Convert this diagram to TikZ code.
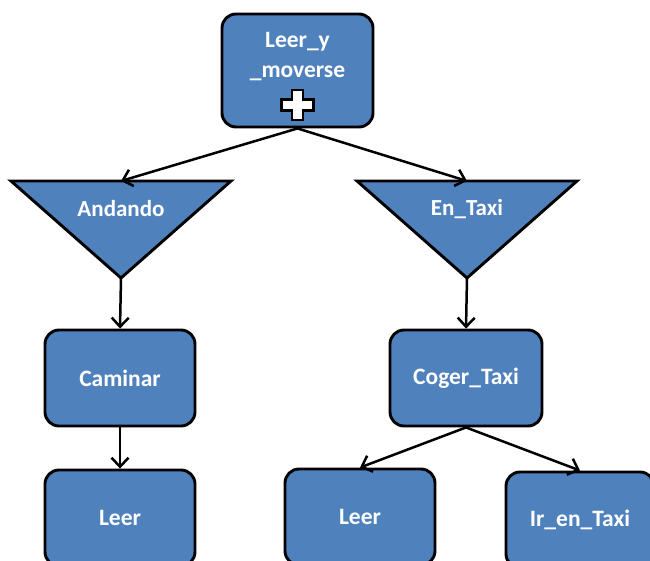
\documentclass[tikz,border=0pt]{standalone}
\usepackage{fontspec}
\setmainfont{Carlito}
\usepackage{tikz}
\usetikzlibrary{arrows.meta}
\definecolor{taskblue}{HTML}{4F81BD}
\tikzset{
  task/.style={draw, line width=2.9pt, rounded corners=14pt, fill=taskblue, text=white,
    font=\bfseries\fontsize{23.5}{30}\selectfont, align=center,
    minimum width=150pt, minimum height=96pt, inner sep=0pt},
  tasktext/.style={text=white, font=\bfseries\fontsize{23.5}{30}\selectfont, align=center, inner sep=0pt},
  choice/.style={draw, line width=2.9pt, fill=taskblue, line join=miter},
  choicetext/.style={text=white, font=\bfseries\fontsize{23}{26}\selectfont, inner sep=0pt},
  plusmark/.style={draw, fill=white, line width=2.6pt, line join=miter},
  arr/.style={-{Straight Barb[length=9pt,width=17pt]}, line width=2.5pt}
}

\begin{document}
\begin{tikzpicture}[x=1pt, y=-1pt, line cap=round, line join=round]
\useasboundingbox (0,0) rectangle (650,561);

% Root task
\node[task, minimum width=151pt, minimum height=113pt] (leermov) at (297.5,70.5) {};
\node[tasktext] (leermovtext) at (297.5,57) {Leer\_y\\\_moverse};
\begin{scope}[shift={(297.5,105)}]
  \draw[plusmark] (-5.5,-15) -- (5.5,-15) -- (5.5,-5.5) -- (16,-5.5) -- (16,5.5) -- (5.5,5.5)
        -- (5.5,15) -- (-5.5,15) -- (-5.5,5.5) -- (-16,5.5) -- (-16,-5.5) -- (-5.5,-5.5) -- cycle;
\end{scope}

% Alternatives
\draw[choice] (11,181) -- (231,181) -- (121,278) -- cycle;
\coordinate (andtop) at (121,181);
\coordinate (andtip) at (121,278);
\node[choicetext] (andando) at (121,209) {Andando};

\draw[choice] (357,181) -- (577,181) -- (467,278) -- cycle;
\coordinate (taxitop) at (467,181);
\coordinate (taxitip) at (467,278);
\node[choicetext] (entaxi) at (467,209) {En\_Taxi};

% Subtasks
\node[task] (caminar) at (120,378) {Caminar};
\node[task, minimum width=152pt] (coger) at (466,378) {Coger\_Taxi};
\node[task] (leerA) at (120,518) {Leer};
\node[task] (leerB) at (360,517) {Leer};
\node[task, minimum width=148pt] (irtaxi) at (580,520) {Ir\_en\_Taxi};

% Connectors
\draw[arr] (leermov.south) -- (andtop);
\draw[arr] (leermov.south) -- (taxitop);
\draw[arr] (andtip) -- (caminar.north);
\draw[arr] (taxitip) -- (coger.north);
\draw[arr] (caminar.south) -- (leerA.north);
\draw[arr] (coger.south) -- (leerB.north);
\draw[arr] (coger.south) -- (irtaxi.north);
\end{tikzpicture}
\end{document}
